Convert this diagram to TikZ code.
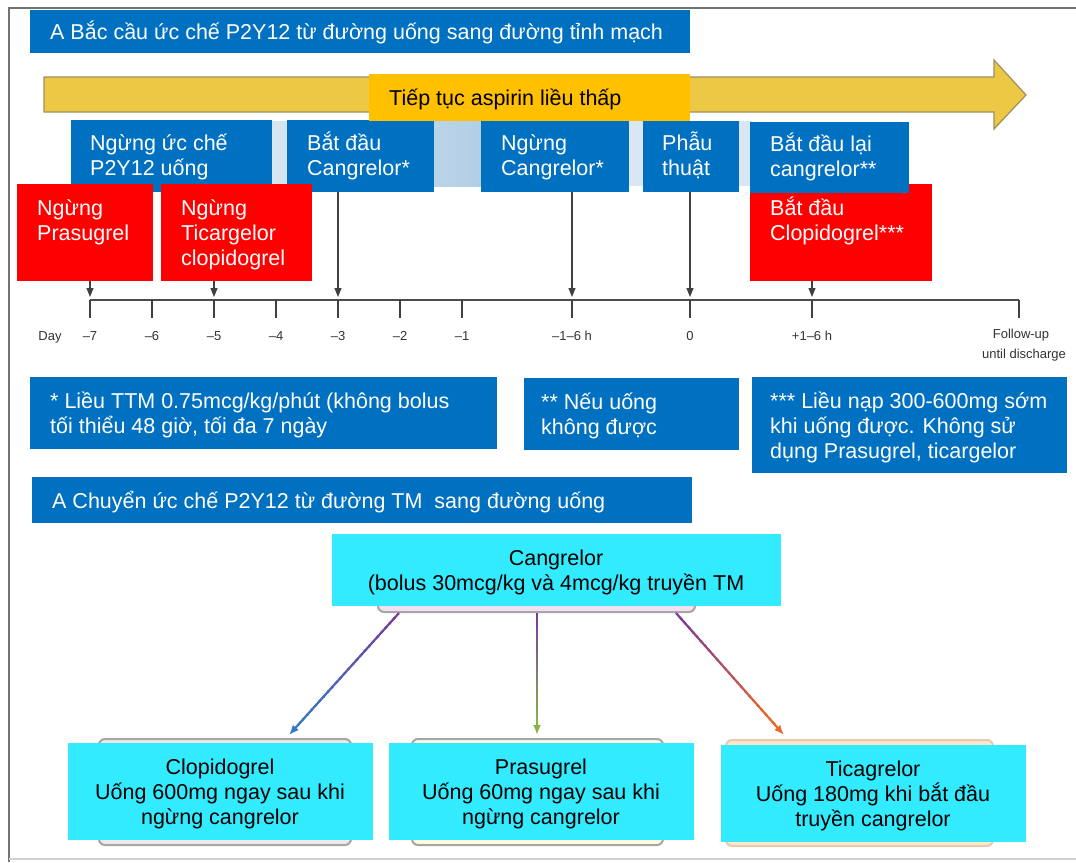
\documentclass[tikz,border=0pt]{standalone}
\usepackage{fontspec}
\setmainfont{Liberation Sans}
\usetikzlibrary{arrows.meta,calc,fit}
\definecolor{myblue}{HTML}{0070C0}
\definecolor{myred}{HTML}{FF0000}
\definecolor{myorange}{HTML}{FFC000}
\definecolor{myyellow}{HTML}{ECC844}
\definecolor{yborder}{HTML}{9E9060}
\definecolor{mycyan}{HTML}{33EBFF}
\definecolor{bandA}{HTML}{D8E7F3}
\definecolor{bandB}{HTML}{B2CEE6}
\definecolor{arrpurple}{HTML}{7A3A9A}
\definecolor{arrblue}{HTML}{3479C6}
\definecolor{arrgreen}{HTML}{8CB04C}
\definecolor{arrorange}{HTML}{E8692C}
\newcommand\gradarrow[3]{%
  \foreach \i in {0,...,23}{%
    \pgfmathsetmacro\ta{0.9*\i/24}%
    \pgfmathsetmacro\tb{0.9*(\i+1.4)/24}%
    \pgfmathtruncatemacro\pc{100*\i/23}%
    \draw[line width=2.2pt, color=#3!\pc!arrpurple] ($(#1)!\ta!(#2)$) -- ($(#1)!\tb!(#2)$);
  }
  \draw[line width=2.2pt, #3, -{Latex[length=10pt,width=8pt]}] ($(#1)!0.89!(#2)$) -- (#2);
}
\begin{document}
\begin{tikzpicture}[x=1pt,y=-1pt,
  bx/.style={fit={#1}, inner sep=0pt, draw=none},
  txt/.style={font=\fontsize{21.5}{25}\selectfont, inner sep=0pt, align=left, anchor=base west},
  wtxt/.style={txt, text=white},
  ktxt/.style={txt, text=black},
  ctxt/.style={txt, text=black, align=center, anchor=base},
  lbl/.style={font=\fontsize{13}{15}\selectfont, inner sep=0pt, anchor=base, text=black!80},
  varr/.style={draw=black!75, line width=1.1pt, -{Triangle[length=9pt,width=7pt]}},
  tickln/.style={draw=black!75, line width=1.1pt},
  backbox/.style={fit={#1}, inner sep=0pt, rounded corners=6pt, line width=2pt}
]
\useasboundingbox (0,0) rectangle (1076,862);
\fill[white] (0,0) rectangle (1076,862);
% frame
\draw[black!55, line width=2pt] (9,862) -- (9,8) -- (1076,8);
\draw[black!18, line width=2pt] (9,859) -- (1076,859);

% title A
\node[bx={(30,10)(690,53)}, fill=myblue] (titleA) {};
\node[wtxt] (titleAtxt) at (50,39) {A Bắc cầu ức chế P2Y12 từ đường uống sang đường tỉnh mạch};

% yellow arrow
\filldraw[fill=myyellow, draw=yborder, line width=1.2pt]
  (44,77) -- (994,77) -- (994,60) -- (1026,95) -- (994,129) -- (994,112) -- (44,112) -- cycle;

% light band
\fill[left color=bandA, right color=bandB] (263,121) rectangle (481,186);
\fill[bandA] (481,121) rectangle (752,186);

% blue boxes (base anchor = last line baseline)
\node[bx={(71,120)(272,192)}, fill=myblue] (b1) {};
\node[wtxt] (b1t) at (90,175) {Ngừng ức chế\\P2Y12 uống};
\node[bx={(287,120)(434,192)}, fill=myblue] (b2) {};
\node[wtxt] (b2t) at (307,175) {Bắt đầu\\Cangrelor*};
\node[bx={(481,121)(629,192)}, fill=myblue] (b3) {};
\node[wtxt] (b3t) at (501,175) {Ngừng\\Cangrelor*};
\node[bx={(643,121)(739,192)}, fill=myblue] (b4) {};
\node[wtxt] (b4t) at (662,175) {Phẫu\\thuật};

% orange box
\node[bx={(369,74)(690,121)}, fill=myorange] (asp) {};
\node[ktxt] (aspt) at (389,105) {Tiếp tục aspirin liều thấp};

% red boxes
\node[bx={(17,184)(153,281)}, fill=myred] (r1) {};
\node[wtxt] (r1t) at (37,240) {Ngừng\\Prasugrel};
\node[bx={(161,184)(312,281)}, fill=myred] (r2) {};
\node[wtxt] (r2t) at (181,265) {Ngừng\\Ticargelor\\clopidogrel};
\node[bx={(750,184)(932,281)}, fill=myred] (r3) {};
\node[wtxt] (r3t) at (770,240) {Bắt đầu\\Clopidogrel***};
\node[bx={(750,122)(909,193)}, fill=myblue] (b5) {};
\node[wtxt] (b5t) at (770,176) {Bắt đầu lại\\cangrelor**};

% axis
\foreach \n/\x in {t7/90, t6/152, t5/214, t4/276, t3/338, t2/400, t1/462, th/572, t0/690, tp/812, tf/1019}
  \coordinate (\n) at (\x,300);
\draw[black!70, line width=2.6pt] (t7) -- (tf);
\foreach \n in {t7,t6,t5,t4,t3,t2,t1,th,t0,tp,tf}
  \draw[tickln] (\n) -- ++(0,18);
\node[lbl] (lday) at (50,340) {Day};
\node[lbl] (l7) at (90,340) {–7};
\node[lbl] (l6) at (152,340) {–6};
\node[lbl] (l5) at (214,340) {–5};
\node[lbl] (l4) at (276,340) {–4};
\node[lbl] (l3) at (338,340) {–3};
\node[lbl] (l2) at (400,340) {–2};
\node[lbl] (l1) at (462,340) {–1};
\node[lbl] (lh) at (572,340) {–1–6 h};
\node[lbl] (l0) at (690,340) {0};
\node[lbl] (lp) at (812,340) {+1–6 h};
\node[lbl] (lf1) at (1021,338) {Follow-up};
\node[lbl] (lf2) at (1024,358) {until discharge};

% vertical arrows
\draw[varr] (r1.south -| t7) -- ([yshift=3pt]t7);
\draw[varr] (r2.south -| t5) -- ([yshift=3pt]t5);
\draw[varr] (b2.south -| t3) -- ([yshift=3pt]t3);
\draw[varr] (b3.south -| th) -- ([yshift=3pt]th);
\draw[varr] (b4.south -| t0) -- ([yshift=3pt]t0);
\draw[varr] (r3.south -| tp) -- ([yshift=3pt]tp);

% footnotes
\node[bx={(30,377)(497,449)}, fill=myblue] (f1) {};
\node[wtxt] (f1t) at (50,433) {* Liều TTM 0.75mcg/kg/phút (không bolus\\tối thiểu 48 giờ, tối đa 7 ngày};
\node[bx={(524,378)(739,450)}, fill=myblue] (f2) {};
\node[wtxt] (f2t) at (541,434) {** Nếu uống\\không được};
\node[bx={(752,377)(1067,473)}, fill=myblue] (f3) {};
\node[wtxt] (f3t) at (770,458) {*** Liều nạp 300-600mg sớm\\khi uống được. Không sử\\dụng Prasugrel, ticargelor};

% title B
\node[bx={(32,477)(692,523)}, fill=myblue] (titleB) {};
\node[wtxt] (titleBt) at (52,508) {A Chuyển ức chế P2Y12 từ đường TM~ sang đường uống};

% cangrelor
\node[backbox={(378,560)(695,612)}, fill=violet!12, draw=black!35] (cback) {};
\node[bx={(332,534)(781,606)}, fill=mycyan] (cang) {};
\node[ctxt] (cangt) at (556,590) {Cangrelor\\(bolus 30mcg/kg và 4mcg/kg truyền TM};

% bottom boxes
\node[backbox={(99,739)(351,845)}, fill=black!8, draw=black!35] (k1back) {};
\node[bx={(68,743)(373,840)}, fill=mycyan] (k1) {};
\node[ctxt] (k1t) at (220,824) {Clopidogrel\\Uống 600mg ngay sau khi\\ngừng cangrelor};
\node[backbox={(412,739)(663,845)}, fill=yellow!12, draw=black!35] (k2back) {};
\node[bx={(389,743)(694,840)}, fill=mycyan] (k2) {};
\node[ctxt] (k2t) at (541,824) {Prasugrel\\Uống 60mg ngay sau khi\\ngừng cangrelor};
\node[backbox={(726,740)(993,846)}, fill=orange!20, draw=brown!40] (k3back) {};
\node[bx={(721,745)(1026,842)}, fill=mycyan] (k3) {};
\node[ctxt] (k3t) at (873,826) {Ticagrelor\\Uống 180mg khi bắt đầu\\truyền cangrelor};

% gradient arrows
\coordinate (s1) at (cback.south -| 399,0);
\coordinate (s2) at (cback.south -| 537,0);
\coordinate (s3) at (cback.south -| 676,0);
\coordinate (e1) at (289,735);
\coordinate (e2) at (537,735);
\coordinate (e3) at (784,735);
\gradarrow{s1}{e1}{arrblue}
\gradarrow{s2}{e2}{arrgreen}
\gradarrow{s3}{e3}{arrorange}
\end{tikzpicture}
\end{document}
